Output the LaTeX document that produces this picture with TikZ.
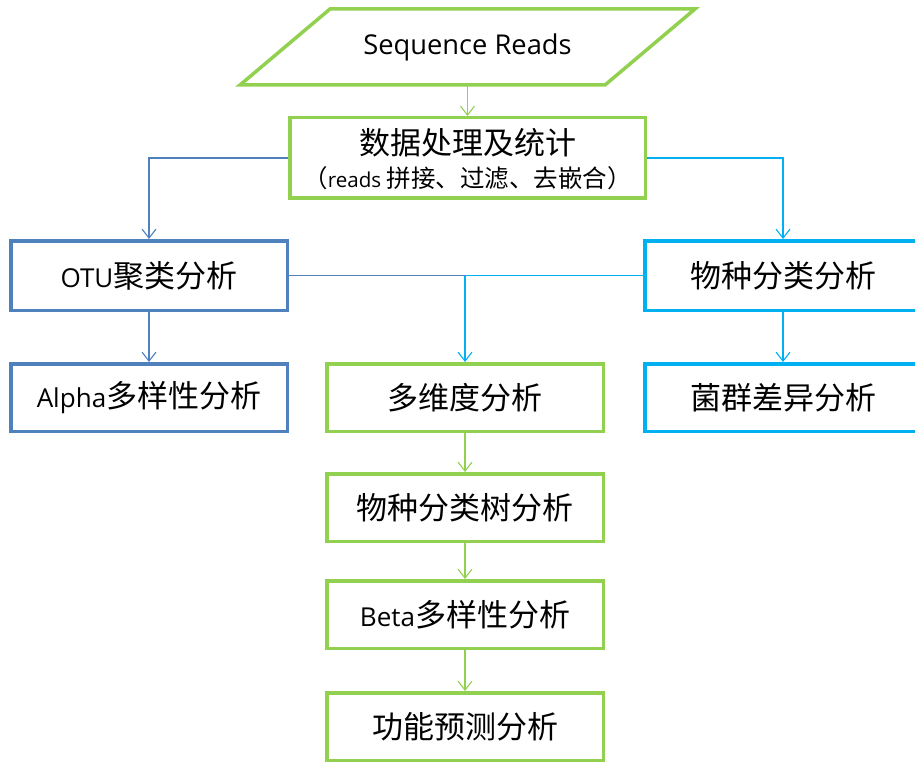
\documentclass[tikz,border=0pt]{standalone}
\usepackage{fontspec}
\setmainfont{Noto Sans CJK SC}
\newfontfamily\latfont[Scale=0.84]{Open Sans}
\newcommand{\lat}[1]{{\latfont #1}}
\usetikzlibrary{arrows.meta}
\definecolor{leaf}{HTML}{92D050}
\definecolor{steel}{HTML}{4F81BD}
\definecolor{sky}{HTML}{00B0F0}
\begin{document}
\begin{tikzpicture}[x=1pt,y=-1pt,
  box/.style={draw, line width=3.5pt, minimum width=276.5pt, minimum height=67.5pt,
    inner sep=0pt, text=black, font=\fontsize{31}{36}\selectfont},
  gbox/.style={box, draw=leaf},
  bbox/.style={box, draw=steel},
  cbox/.style={box, draw=sky},
  link/.style={line width=1.1pt, -{Straight Barb[length=9pt,width=14pt,line width=1.1pt]}},
  plain/.style={line width=1.1pt},
  label/.style={inner sep=0pt, text=black}
]
\useasboundingbox (0,0) rectangle (915,762);
\clip (0,0) rectangle (915,762);

% input parallelogram
\draw[leaf, line width=3.5pt] (330,9) -- (695,9) -- (605,85) -- (240,85) -- cycle;
\node[label, minimum height=76pt, font=\fontsize{32.5}{37}\selectfont] (seq) at (467.5,47) {\lat{Sequence Reads}};

% preprocessing box
\node[gbox, minimum width=355.5pt, minimum height=80.5pt] (proc) at (467.5,158) {};
\node[label, font=\fontsize{31}{36}\selectfont] (procA) at (467.5,143) {数据处理及统计};
\node[label, font=\fontsize{24.5}{28}\selectfont] (procB) at (467.5,178) {（\lat{reads} 拼接、过滤、去嵌合）};

% analysis boxes
\node[bbox, minimum height=69.5pt] (otu) at (149,275.5) {\lat{OTU}聚类分析};
\node[cbox, minimum height=69.5pt] (tax) at (783,275.5) {物种分类分析};
\node[bbox] (alpha) at (149,397.5) {\lat{Alpha}多样性分析};
\node[gbox] (multi) at (465,397.5) {多维度分析};
\node[cbox] (diff) at (783,397.5) {菌群差异分析};
\node[gbox] (tree) at (465,507.5) {物种分类树分析};
\node[gbox] (beta) at (465,614.5) {\lat{Beta}多样性分析};
\node[gbox] (func) at (465,726.5) {功能预测分析};

% connectors
\draw[link, leaf] (seq.south) -- (proc.north);
\draw[link, steel] (proc.west) -| (otu.north);
\draw[link, sky] (proc.east) -| (tax.north);
\coordinate (split) at (multi.north |- otu.east);
\draw[plain, steel] (otu.east) -- (split);
\draw[plain, sky] (split) -- (tax.west);
\draw[link, sky] (split) -- (multi.north);
\draw[link, steel] (otu.south) -- (alpha.north);
\draw[link, sky] (tax.south) -- (diff.north);
\draw[link, leaf] (multi.south) -- (tree.north);
\draw[link, leaf] (tree.south) -- (beta.north);
\draw[link, leaf] (beta.south) -- (func.north);
\end{tikzpicture}
\end{document}
